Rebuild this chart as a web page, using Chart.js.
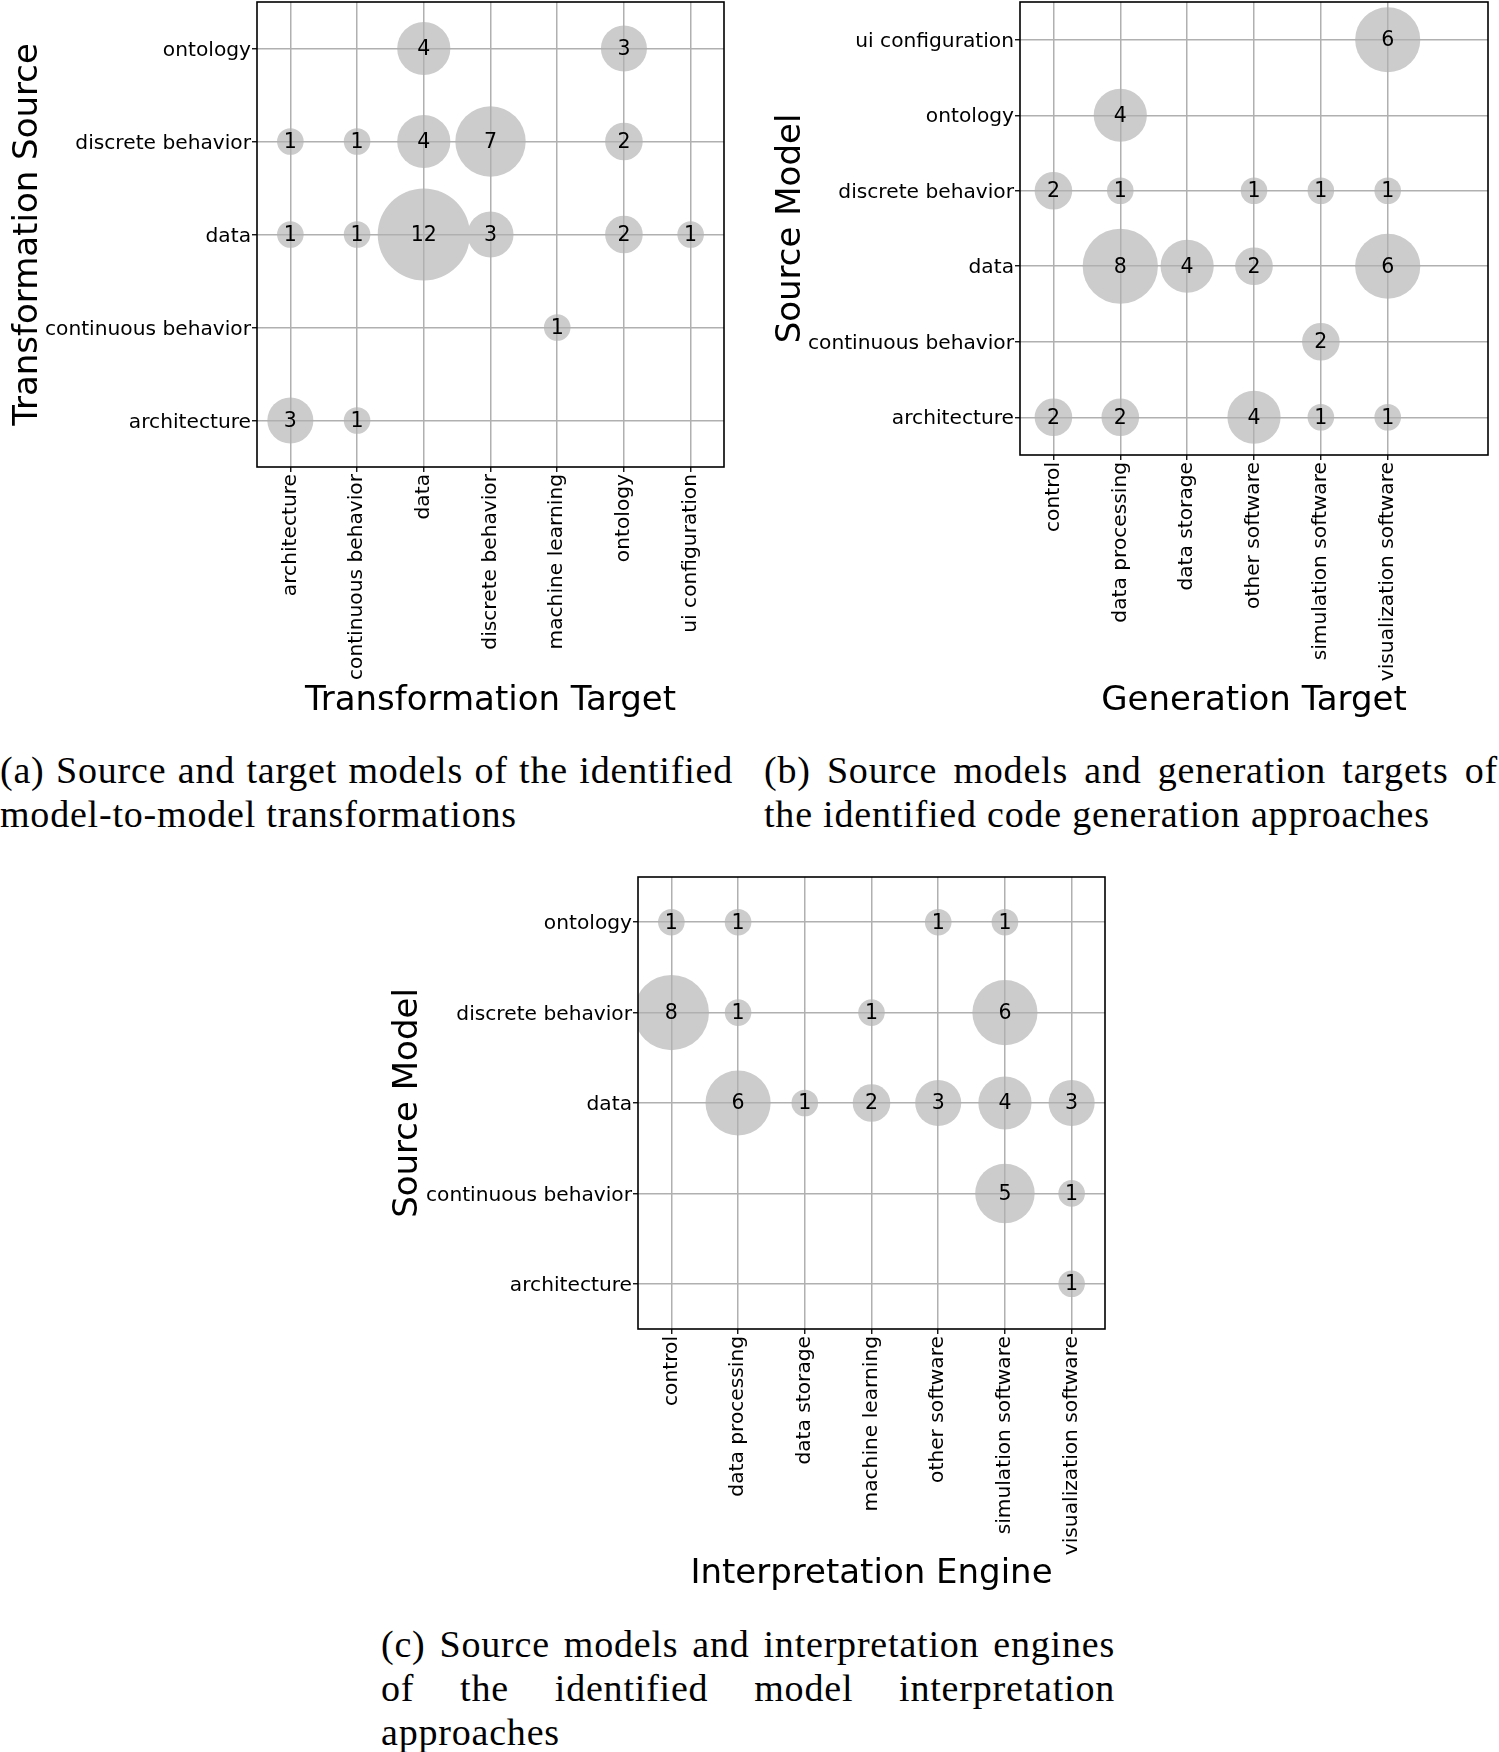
<!DOCTYPE html>
<html>
<head>
<meta charset="utf-8">
<script src="https://cdn.jsdelivr.net/npm/chart.js@4.4.1/dist/chart.umd.min.js"></script>
<style>
  html, body { margin: 0; padding: 0; background: #fff; }
  body { position: relative; width: 1499px; height: 1752px; overflow: hidden; }
  .panel { position: absolute; }
  .caption {
    position: absolute;
    font-family: "Liberation Serif", serif;
    font-size: 38px;
    line-height: 44px;
    letter-spacing: 0.8px;
    color: #000;
  }
  .caption .full { text-align: justify; text-align-last: justify; }
</style>
</head>
<body>

<div class="panel" style="left:0;top:0"><canvas id="chartA" width="750" height="730"></canvas></div>
<div class="panel" style="left:750px;top:0"><canvas id="chartB" width="749" height="730"></canvas></div>
<div class="panel" style="left:370px;top:860px"><canvas id="chartC" width="760" height="740"></canvas></div>

<div class="caption" style="left:0;top:748px;width:733px">
  <div class="full">(a) Source and target models of the identified</div>
  <div>model-to-model transformations</div>
</div>
<div class="caption" style="left:764px;top:748px;width:734px">
  <div class="full">(b) Source models and generation targets of</div>
  <div>the identified code generation approaches</div>
</div>
<div class="caption" style="left:381px;top:1622px;width:734px">
  <div class="full">(c) Source models and interpretation engines</div>
  <div class="full">of the identified model interpretation</div>
  <div>approaches</div>
</div>

<script>
// (a) model-to-model transformations
var transformTargets = ["architecture", "continuous behavior", "data", "discrete behavior",
                        "machine learning", "ontology", "ui configuration"];
var transformSources = ["architecture", "continuous behavior", "data", "discrete behavior", "ontology"];
// one row per source (bottom to top), one column per target
var transformCounts = [
    [3, 1, 0, 0, 0, 0, 0],
    [0, 0, 0, 0, 1, 0, 0],
    [1, 1, 12, 3, 0, 2, 1],
    [1, 1, 4, 7, 0, 2, 0],
    [0, 0, 4, 0, 0, 3, 0]
];

// (b) code generation
var generationTargets = ["control", "data processing", "data storage", "other software",
                         "simulation software", "visualization software"];
var generationSources = ["architecture", "continuous behavior", "data", "discrete behavior",
                         "ontology", "ui configuration"];
var generationCounts = [
    [2, 2, 0, 4, 1, 1],
    [0, 0, 0, 0, 2, 0],
    [0, 8, 4, 2, 0, 6],
    [2, 1, 0, 1, 1, 1],
    [0, 4, 0, 0, 0, 0],
    [0, 0, 0, 0, 0, 6]
];

// (c) model interpretation
var engineTargets = ["control", "data processing", "data storage", "machine learning",
                     "other software", "simulation software", "visualization software"];
var engineSources = ["architecture", "continuous behavior", "data", "discrete behavior", "ontology"];
var engineCounts = [
    [0, 0, 0, 0, 0, 0, 1],
    [0, 0, 0, 0, 0, 5, 1],
    [0, 6, 1, 2, 3, 4, 3],
    [8, 1, 0, 1, 0, 6, 0],
    [1, 1, 0, 0, 1, 1, 0]
];

var BUBBLE_SCALE = 13.3; // px of radius per sqrt(count)
var TICK_FONT = { family: "'DejaVu Sans'", size: 20.2 };
var TITLE_FONT = { family: "'DejaVu Sans'", size: 34 };

var toPoints = function (counts) {
    var pts = [];
    counts.forEach(function (row, y) {
        row.forEach(function (v, x) {
            if (v > 0) pts.push({ x: x, y: y, v: v });
        });
    });
    return pts;
};

// frame round the plot + the count inside each bubble
var frameAndCounts = {
    id: 'frameAndCounts',
    afterDraw: function (chart) {
        var ctx = chart.ctx, a = chart.chartArea;
        var pts = chart.data.datasets[0].data;
        ctx.save();
        ctx.fillStyle = '#000';
        ctx.font = '20.5px "DejaVu Sans"';
        ctx.textAlign = 'center';
        ctx.textBaseline = 'middle';
        chart.getDatasetMeta(0).data.forEach(function (el, i) {
            ctx.fillText(String(pts[i].v), el.x, el.y + 1);
        });
        ctx.strokeStyle = '#000';
        ctx.lineWidth = 1.6;
        ctx.strokeRect(a.left, a.top, a.right - a.left, a.bottom - a.top);
        ctx.restore();
    }
};

var makeChart = function (id, cfg) {
    var gridOpts = { z: 1, color: '#b0b0b0', lineWidth: 1.5, tickColor: '#000', tickLength: 5, tickWidth: 1.3 };
    return new Chart(document.getElementById(id), {
        type: 'bubble',
        data: {
            datasets: [{
                data: toPoints(cfg.counts),
                backgroundColor: '#cccccc',
                borderWidth: 0,
                hoverBorderWidth: 0,
                clip: 0,
                radius: function (c) { return c.raw ? BUBBLE_SCALE * Math.sqrt(c.raw.v) : 0; }
            }]
        },
        options: {
            responsive: false,
            animation: false,
            devicePixelRatio: 1,
            events: [],
            layout: {
                autoPadding: false,
                padding: { top: cfg.padTop, right: cfg.padRight, left: 0, bottom: 0 }
            },
            plugins: { legend: { display: false }, tooltip: { enabled: false } },
            scales: {
                x: {
                    type: 'linear',
                    bounds: 'data',
                    min: -0.5,
                    max: cfg.xSlots - 0.5,
                    afterBuildTicks: function (s) {
                        s.ticks = cfg.cols.map(function (_, i) { return { value: i }; });
                    },
                    afterFit: function (s) {
                        s.height = cfg.xAxisHeight;
                        s.paddingLeft = 0;
                        s.paddingRight = 0;
                    },
                    ticks: {
                        autoSkip: false, minRotation: 90, maxRotation: 90, padding: 2,
                        color: '#000', font: TICK_FONT,
                        callback: function (v) { return cfg.cols[v]; }
                    },
                    grid: gridOpts,
                    border: { display: false },
                    title: {
                        display: true, text: cfg.xTitle, color: '#000', font: TITLE_FONT,
                        padding: { top: 0, bottom: cfg.xTitlePad }
                    }
                },
                y: {
                    type: 'linear',
                    bounds: 'data',
                    min: -0.5,
                    max: cfg.rows.length - 0.5,
                    afterBuildTicks: function (s) {
                        s.ticks = cfg.rows.map(function (_, i) { return { value: i }; });
                    },
                    afterFit: function (s) {
                        s.width = cfg.yAxisWidth;
                        s.paddingTop = 0;
                        s.paddingBottom = 0;
                    },
                    ticks: {
                        autoSkip: false, padding: 1, labelOffset: 2, color: '#000', font: TICK_FONT,
                        callback: function (v) { return cfg.rows[v]; }
                    },
                    grid: gridOpts,
                    border: { display: false },
                    title: {
                        display: true, text: cfg.yTitle, color: '#000', font: TITLE_FONT,
                        padding: { top: cfg.yTitlePad, bottom: 0 }
                    }
                }
            }
        },
        plugins: [frameAndCounts]
    });
};

makeChart('chartA', {
    cols: transformTargets, rows: transformSources, counts: transformCounts, xSlots: 7,
    xTitle: 'Transformation Target', yTitle: 'Transformation Source',
    yAxisWidth: 257, xAxisHeight: 263, padTop: 2, padRight: 26, xTitlePad: 8, yTitlePad: 8
});

makeChart('chartB', {
    cols: generationTargets, rows: generationSources, counts: generationCounts, xSlots: 7,
    xTitle: 'Generation Target', yTitle: 'Source Model',
    yAxisWidth: 270, xAxisHeight: 275, padTop: 2, padRight: 11, xTitlePad: 8, yTitlePad: 21
});

makeChart('chartC', {
    cols: engineTargets, rows: engineSources, counts: engineCounts, xSlots: 7,
    xTitle: 'Interpretation Engine', yTitle: 'Source Model',
    yAxisWidth: 268, xAxisHeight: 271, padTop: 17, padRight: 25, xTitlePad: 5, yTitlePad: 18
});
</script>
</body>
</html>
